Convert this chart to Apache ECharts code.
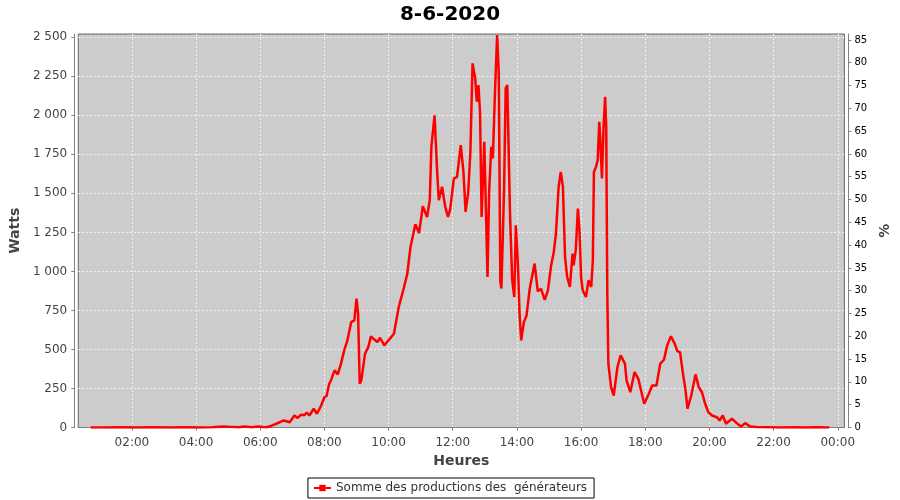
<!DOCTYPE html>
<html><head><meta charset="utf-8">
<script src="https://cdn.jsdelivr.net/npm/echarts@6/dist/echarts.min.js"></script>
<style>html,body{margin:0;padding:0;background:#fff}#c{width:900px;height:500px}</style>
</head><body><div id="c"></div>
<script>
const chartTitle = '8-6-2020';
const seriesName = 'Somme des productions des  générateurs';
const xName = 'Heures';
const yLeftName = 'Watts';
const yRightName = '%';

const times = ["00:43","01:10","01:40","02:10","02:40","03:10","03:40","04:10","04:30","04:50","05:05","05:20","05:30","05:45","05:55","06:05","06:12","06:20","06:30","06:44","06:55","07:04","07:10","07:16","07:23","07:27","07:32","07:40","07:46","07:54","08:00","08:04","08:09","08:13","08:19","08:25","08:31","08:37","08:43","08:50","08:56","09:00","09:03","09:06","09:09","09:16","09:22","09:27","09:33","09:39","09:44","09:52","10:01","10:10","10:19","10:29","10:35","10:41","10:50","10:57","11:04","11:12","11:17","11:20","11:26","11:31","11:34","11:40","11:46","11:51","11:55","12:02","12:08","12:15","12:20","12:24","12:29","12:33","12:37","12:42","12:45","12:48","12:51","12:54","12:59","13:02","13:05","13:08","13:12","13:15","13:19","13:23","13:26","13:29","13:31","13:36","13:39","13:42","13:47","13:51","13:55","13:58","14:02","14:05","14:08","14:13","14:18","14:24","14:33","14:39","14:45","14:52","14:58","15:04","15:09","15:13","15:18","15:22","15:26","15:30","15:34","15:39","15:44","15:46","15:50","15:54","15:57","16:00","16:03","16:09","16:14","16:19","16:22","16:24","16:28","16:31","16:34","16:36","16:39","16:42","16:45","16:47","16:49","16:51","16:56","17:01","17:08","17:14","17:22","17:25","17:32","17:40","17:47","17:58","18:07","18:13","18:21","18:28","18:35","18:41","18:48","18:55","19:00","19:05","19:11","19:15","19:19","19:26","19:34","19:40","19:46","19:52","19:58","20:05","20:14","20:19","20:25","20:31","20:42","20:51","20:59","21:07","21:16","21:28","21:50","22:10","22:40","23:00","23:20","23:44"];
const watts = [0,0,1,0,2,0,1,0,2,6,4,1,6,2,7,3,2,10,24,45,34,77,61,81,80,96,77,120,88,141,194,202,280,308,366,340,409,494,558,675,686,826,729,280,302,473,515,584,565,547,575,526,563,601,772,900,986,1157,1302,1246,1418,1349,1456,1798,2000,1627,1456,1542,1413,1349,1392,1595,1606,1809,1638,1381,1509,1766,2333,2237,2087,2194,2023,1349,1830,1403,964,1509,1798,1724,2151,2515,2279,932,890,1531,2173,2194,1381,954,836,1296,1039,718,558,675,718,890,1050,872,890,818,879,1039,1125,1243,1542,1638,1542,1092,964,900,1114,1039,1135,1403,1264,964,879,836,943,900,1071,1638,1670,1713,1959,1841,1595,1926,2119,1926,858,409,259,205,387,462,409,302,226,355,312,152,218,269,269,409,434,526,584,537,489,483,334,248,120,205,340,259,226,152,98,77,66,45,77,24,56,28,6,28,6,3,2,0,1,0,2,0];

const wattTicks = [0,250,500,750,1000,1250,1500,1750,2000,2250,2500];
const pctTicks = [0,5,10,15,20,25,30,35,40,45,50,55,60,65,70,75,80,85];
const hourTicks = [2,4,6,8,10,12,14,16,18,20,22,24];

function toHours(t){const p=t.split(':');return +p[0]+(+p[1])/60;}
const data = times.map((t,i)=>[toHours(t), watts[i]]);
function fmtW(v){ if(v>=1000){const k=Math.floor(v/1000);const r=String(v%1000).padStart(3,'0');return k+'\u00a0'+r;} return String(v);}
function fmtH(v){const h=Math.round(v)%24;return (h<10?'0':'')+h+':00';}

const chart = echarts.init(document.getElementById('c'), null, {renderer:'canvas'});
const axisGray = '#808080';
chart.setOption({
  backgroundColor:'#ffffff',
  animation:false,
  textStyle:{fontFamily:'DejaVu Sans'},
  title:{text:chartTitle,left:'center',top:0,textStyle:{fontSize:20,fontWeight:'bold',color:'#000',fontFamily:'DejaVu Sans'}},
  legend:{bottom:2,left:'center',data:[seriesName],borderColor:'#000',borderWidth:1,borderRadius:0,padding:[4,7,4,5],itemWidth:17,itemHeight:8,itemGap:4,
    textStyle:{fontSize:12,color:'#333',fontFamily:'DejaVu Sans'}},
  grid:{left:77,right:52,top:34,bottom:72.5,show:true,backgroundColor:'#cccccc',borderColor:'#666666',borderWidth:1},
  xAxis:{type:'value',min:0.328,max:24.206,offset:4,
    name:xName,nameLocation:'middle',nameGap:23,nameTextStyle:{fontSize:14,fontWeight:'bold',color:'#444',fontFamily:'DejaVu Sans'},
    axisLine:{show:true,lineStyle:{color:axisGray}},
    axisTick:{show:true,length:3,customValues:hourTicks,lineStyle:{color:axisGray}},
    axisLabel:{customValues:hourTicks,formatter:fmtH,fontSize:12,color:'#444',margin:5},
    splitLine:{show:true,lineStyle:{color:'#f2f2f2',type:[2,2],width:1}}},
  yAxis:[
   {type:'value',position:'left',min:0,max:2521,offset:4,
    name:yLeftName,nameLocation:'middle',nameRotate:90,nameGap:42,nameTextStyle:{fontSize:14,fontWeight:'bold',color:'#444',fontFamily:'DejaVu Sans'},
    axisLine:{show:true,lineStyle:{color:axisGray}},
    axisTick:{show:true,length:3,customValues:wattTicks,lineStyle:{color:axisGray}},
    axisLabel:{customValues:wattTicks,formatter:fmtW,fontSize:12,color:'#444',margin:7},
    splitLine:{show:true,lineStyle:{color:'#f2f2f2',type:[2,2],width:1}}},
   {type:'value',position:'right',min:0,max:86.3,offset:4,
    name:yRightName,nameLocation:'middle',nameRotate:90,nameGap:25,nameTextStyle:{fontSize:14,fontWeight:'bold',color:'#444',fontFamily:'DejaVu Sans'},
    axisLine:{show:true,lineStyle:{color:axisGray}},
    axisTick:{show:true,length:3,customValues:pctTicks,lineStyle:{color:axisGray}},
    axisLabel:{customValues:pctTicks,fontSize:10,color:'#000',margin:6},
    splitLine:{show:false}}
  ],
  series:[{name:seriesName,type:'line',yAxisIndex:0,data:data,showSymbol:false,symbol:'rect',symbolSize:4,
    lineStyle:{color:'#ff0000',width:2.5},itemStyle:{color:'#ff0000'},clip:true}]
});
</script></body></html>
